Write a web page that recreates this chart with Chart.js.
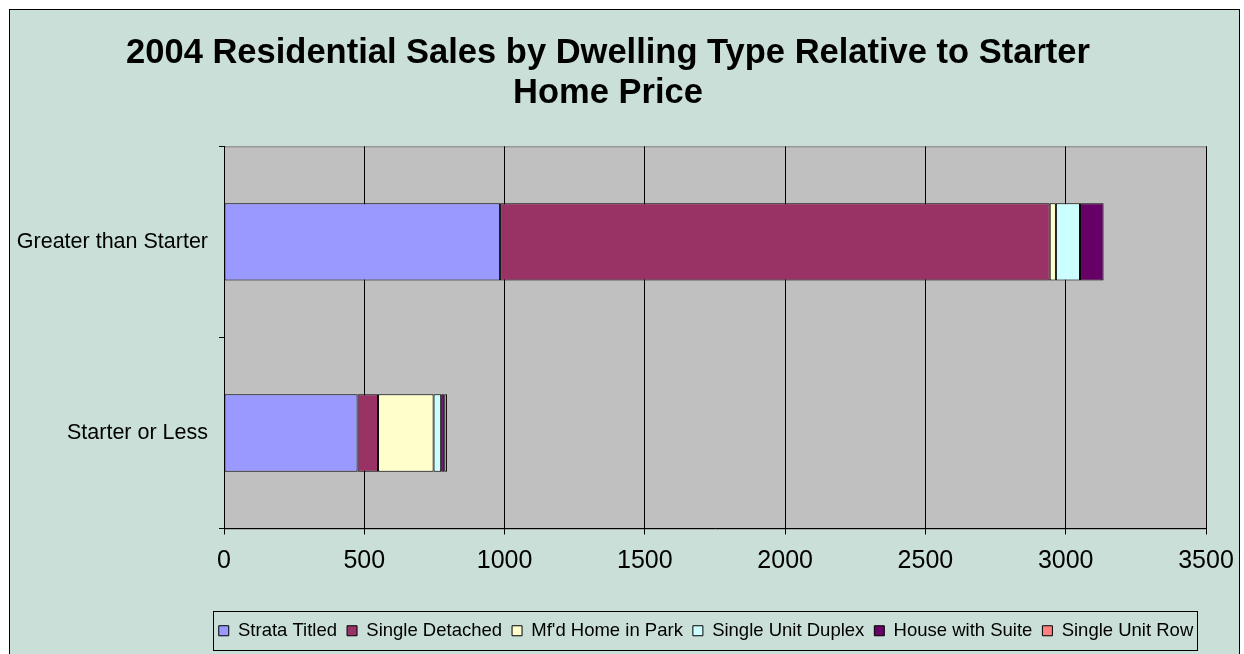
<!DOCTYPE html>
<html lang="en">
<head>
    <meta charset="UTF-8">
    <title>2004 Residential Sales by Dwelling Type</title>
    <script src="https://cdn.jsdelivr.net/npm/chart.js"></script>
    <style>
        body { margin: 0; background: #fff; overflow: hidden; }
        .chartBox {
            position: absolute; left: 9px; top: 9px;
            width: 1229px; height: 660px;
            background: #C9DFD8; border: 1px solid #000;
        }
    </style>
</head>
<body>
    <div class="chartBox">
        <canvas id="myChart" width="1229" height="644"></canvas>
    </div>

    <script>
        // data
        const categories = ['Greater than Starter', 'Starter or Less'];
        const strataTitled = [984, 476];
        const singleDetached = [1959, 73];
        const mfdHomeInPark = [22, 198];
        const singleUnitDuplex = [86, 27];
        const houseWithSuite = [84, 11];
        const singleUnitRow = [0, 10];
        const xTicks = [0, 500, 1000, 1500, 2000, 2500, 3000, 3500];

        const font = "'Liberation Sans', Arial, sans-serif";

        function ds(label, values, color) {
            return {
                label: label,
                data: values,
                backgroundColor: color,
                borderColor: '#000',
                borderWidth: 1,
                borderSkipped: false,
                barPercentage: 0.405,
                categoryPercentage: 1
            };
        }

        const data = {
            labels: categories,
            datasets: [
                ds('Strata Titled', strataTitled, '#9999FF'),
                ds('Single Detached', singleDetached, '#993366'),
                ds("Mf'd Home in Park", mfdHomeInPark, '#FFFFCC'),
                ds('Single Unit Duplex', singleUnitDuplex, '#CCFFFF'),
                ds('House with Suite', houseWithSuite, '#660066'),
                ds('Single Unit Row', singleUnitRow, '#FF8080')
            ]
        };

        // grey plot area + legend frame
        const decor = {
            id: 'decor',
            beforeDraw(chart) {
                const a = chart.chartArea, ctx = chart.ctx;
                ctx.save();
                ctx.fillStyle = '#C0C0C0';
                ctx.fillRect(a.left, a.top, a.right - a.left, a.bottom - a.top);
                ctx.strokeStyle = '#808080';
                ctx.lineWidth = 1;
                ctx.strokeRect(a.left + 0.5, a.top + 0.5, a.right - a.left, a.bottom - a.top);
                ctx.restore();
            },
            afterUpdate(chart) {
                // move legend to the right like the original
                const lg = chart.legend;
                if (!lg || !lg.legendHitBoxes.length) return;
                const boxes = lg.legendHitBoxes;
                const l = Math.min(...boxes.map(b => b.left));
                const r = Math.max(...boxes.map(b => b.left + b.width));
                const dx = 696 - (l + r) / 2;
                lg.left += dx; lg.right += dx;
                lg.adjustHitBoxes();
            },
            afterDraw(chart) {
                const lg = chart.legend;
                if (!lg || !lg.legendHitBoxes.length) return;
                const boxes = lg.legendHitBoxes;
                const l = Math.min(...boxes.map(b => b.left));
                const r = Math.max(...boxes.map(b => b.left + b.width));
                const ctx = chart.ctx;
                ctx.save();
                ctx.strokeStyle = '#000';
                ctx.lineWidth = 1;
                ctx.strokeRect(Math.round(l) - 5.5, 601.5, Math.round(r - l) + 9, 39);
                ctx.restore();
            }
        };

        const config = {
            type: 'bar',
            data,
            options: {
                indexAxis: 'y',
                responsive: false,
                animation: false,
                layout: { padding: { left: 0, right: 33, top: 0, bottom: 4 } },
                plugins: {
                    title: {
                        display: true,
                        text: ['2004 Residential Sales by Dwelling Type Relative to Starter', 'Home Price'],
                        color: '#000',
                        font: { family: font, size: 34.5, weight: 'bold', lineHeight: 1.15 },
                        padding: { top: 24, bottom: 33 }
                    },
                    legend: {
                        position: 'bottom',
                        labels: {
                            color: '#000',
                            font: { family: font, size: 18.5 },
                            boxWidth: 10,
                            boxHeight: 10,
                            padding: 10
                        }
                    },
                    tooltip: { enabled: false }
                },
                scales: {
                    x: {
                        stacked: true,
                        min: 0,
                        max: 3500,
                        afterBuildTicks: s => { s.ticks = xTicks.map(v => ({ value: v })); },
                        afterFit: s => { s.height = 83; s.paddingRight = 0; s.paddingLeft = 0; },
                        grid: { color: '#000', tickLength: 6, drawTicks: true },
                        border: { color: '#000' },
                        ticks: {
                            color: '#000', font: { family: font, size: 25 }, padding: 12, maxRotation: 0,
                            callback: v => String(v)
                        }
                    },
                    y: {
                        stacked: true,
                        afterFit: s => { s.width = 214; },
                        grid: { offset: true, drawOnChartArea: false, color: '#000', tickLength: 5 },
                        border: { color: '#000' },
                        ticks: { color: '#000', font: { family: font, size: 21.5 }, padding: 11 }
                    }
                }
            },
            plugins: [decor]
        };

        const myChart = new Chart(document.getElementById('myChart'), config);
    </script>
</body>
</html>
